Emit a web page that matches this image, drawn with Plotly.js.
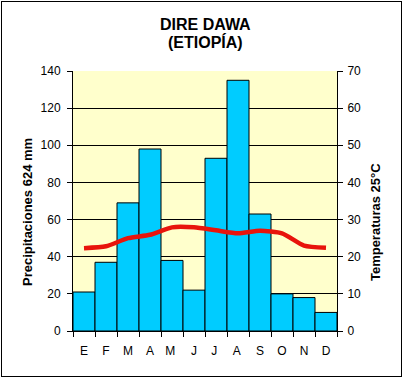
<!DOCTYPE html>
<html>
<head>
<meta charset="utf-8">
<script src="https://cdn.plot.ly/plotly-3.0.1.min.js"></script>
<style>
  html, body { margin: 0; padding: 0; background: #fff; }
  #wrap { position: relative; width: 403px; height: 378px; }
  #chart { position: absolute; left: 0; top: 0; width: 403px; height: 378px; }
  #frame { position: absolute; left: 1px; top: 1px; width: 399px; height: 374px; border: 1px solid #000; pointer-events: none; }
</style>
</head>
<body>
<div id="wrap">
  <div id="chart"></div>
  <div id="frame"></div>
</div>
<script>
const months = ["E", "F", "M", "A", "M ", "J", "J ", "A ", "S", "O", "N", "D"];
const precipitation = [21, 37, 69, 98, 38, 22, 93, 135, 63, 20, 18, 10];
const temperature = [22.3, 22.8, 25.0, 25.9, 27.9, 27.9, 27.1, 26.3, 27.0, 26.3, 23.0, 22.4];

const titleLines = ["DIRE DAWA", "(ETIOPÍA)"];
const leftTitle = "Precipitaciones 624 mm";
const rightTitle = "Temperaturas 25°C";

const font = { family: "Liberation Sans, Arial, sans-serif", color: "#000" };
const f = (size) => Object.assign({ size: size }, font);

const data = [
  {
    type: "bar",
    x: months,
    y: precipitation,
    marker: { color: "#00CCFF", line: { color: "#000", width: 1 } },
    hoverinfo: "skip"
  },
  {
    type: "scatter",
    mode: "lines",
    x: months,
    y: temperature,
    yaxis: "y2",
    line: { color: "#E8140C", width: 4.5, shape: "spline", smoothing: 0.6 },
    hoverinfo: "skip"
  }
];

const layout = {
  width: 403,
  height: 378,
  margin: { l: 73, r: 66, t: 71, b: 47 },
  paper_bgcolor: "#fff",
  plot_bgcolor: "#FFFFCC",
  showlegend: false,
  bargap: 0,
  font: f(12),
  xaxis: {
    type: "category",
    tickson: "boundaries",
    tickangle: 0,
    ticks: "outside",
    ticklen: 5,
    tickcolor: "#000",
    ticklabelstandoff: 9,
    showline: true,
    linecolor: "#000",
    linewidth: 1,
    showgrid: false,
    tickfont: f(12),
    fixedrange: true
  },
  yaxis: {
    range: [0, 140],
    dtick: 20,
    ticks: "outside",
    ticklen: 5,
    tickcolor: "#000",
    ticklabelstandoff: 4,
    showline: true,
    linecolor: "#000",
    showgrid: true,
    gridcolor: "#000",
    gridwidth: 1,
    zeroline: false,
    tickfont: f(12)
  },
  yaxis2: {
    range: [0, 70],
    dtick: 10,
    overlaying: "y",
    side: "right",
    ticks: "outside",
    ticklen: 5,
    tickcolor: "#000",
    ticklabelstandoff: 2,
    showline: true,
    linecolor: "#000",
    showgrid: false,
    zeroline: false,
    tickfont: f(12)
  },
  annotations: [
    { text: "<b>" + titleLines[0] + "</b>", xref: "paper", yref: "paper", x: 0.5, y: 1.177, xanchor: "center", yanchor: "middle", showarrow: false, font: f(16) },
    { text: "<b>" + titleLines[1] + "</b>", xref: "paper", yref: "paper", x: 0.5, y: 1.11, xanchor: "center", yanchor: "middle", showarrow: false, font: f(16) },
    { text: "<b>" + leftTitle + "</b>", xref: "paper", yref: "paper", x: -0.17, y: 0.458, xanchor: "center", yanchor: "middle", textangle: -90, showarrow: false, font: f(13) },
    { text: "<b>" + rightTitle + "</b>", xref: "paper", yref: "paper", x: 1.144, y: 0.419, xanchor: "center", yanchor: "middle", textangle: -90, showarrow: false, font: f(13) }
  ]
};

Plotly.newPlot("chart", data, layout, { staticPlot: true, displayModeBar: false });
</script>
</body>
</html>
